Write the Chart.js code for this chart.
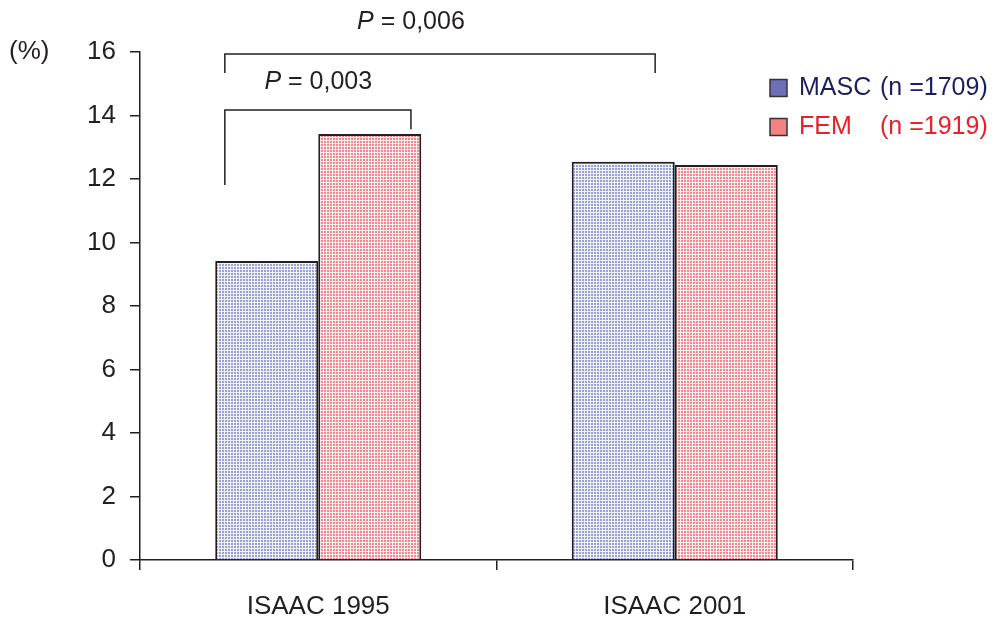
<!DOCTYPE html>
<html lang="en">
<head>
    <meta charset="UTF-8">
    <title>ISAAC 1995 / 2001</title>
    <script src="https://cdn.jsdelivr.net/npm/chart.js"></script>
    <style>
        html, body { margin: 0; padding: 0; background: #fff; }
        #wrap { width: 1000px; height: 621px; }
    </style>
</head>
<body>
    <div id="wrap"><canvas id="chart"></canvas></div>

    <script>
        // Data
        const categories = ['ISAAC 1995', 'ISAAC 2001'];
        const seriesNames = ['MASC', 'FEM'];
        const seriesN = ['(n =1709)', '(n =1919)'];
        const mascValues = [9.42, 12.54];
        const femValues = [13.42, 12.44];
        const yTicks = [0, 2, 4, 6, 8, 10, 12, 14, 16];

        // Significance brackets: x in category units, y in % units
        const bracketLabels = ['0,003', '0,006'];
        const bracketX = [[-0.262, 0.260], [-0.262, 0.945]];
        const bracketTop = [14.17, 15.94];
        const bracketLegs = [[11.81, 13.57], [15.34, 15.34]];
        const bracketTextX = [0, 0.26];
        const bracketTextY = [15.06, 16.94];

        const FONT = '"Liberation Sans", Arial, sans-serif';
        const INK = '#231f20';

        // Dotted fill like the printed figure
        function dotPattern(bg, dot) {
            const c = document.createElement('canvas');
            c.width = 3; c.height = 3;
            const g = c.getContext('2d');
            g.fillStyle = bg;
            g.fillRect(0, 0, 3, 3);
            g.fillStyle = dot;
            g.fillRect(0, 0, 2, 2);
            return g.createPattern(c, 'repeat');
        }
        const bluePattern = dotPattern('#f1f2fa', '#98a0d6');
        const redPattern = dotPattern('#fff0f0', '#f5878c');

        const legendFill = ['#6d70b8', '#f28283'];
        const legendText = ['#1b1f5f', '#e62129'];

        const overlay = {
            id: 'overlay',
            afterDraw(chart) {
                const { ctx, chartArea, scales } = chart;
                const y = scales.y;
                const catW = (chartArea.right - chartArea.left) / categories.length;
                const px = v => chartArea.left + (v + 0.5) * catW;
                ctx.save();

                // brackets
                ctx.strokeStyle = INK;
                ctx.lineWidth = 1.5;
                for (let i = 0; i < bracketLabels.length; i++) {
                    const x0 = px(bracketX[i][0]), x1 = px(bracketX[i][1]);
                    const yt = y.getPixelForValue(bracketTop[i]);
                    ctx.beginPath();
                    ctx.moveTo(x0, y.getPixelForValue(bracketLegs[i][0]));
                    ctx.lineTo(x0, yt);
                    ctx.lineTo(x1, yt);
                    ctx.lineTo(x1, y.getPixelForValue(bracketLegs[i][1]));
                    ctx.stroke();

                    // "P = value" with italic P
                    const pPart = 'P';
                    const rest = ' = ' + bracketLabels[i];
                    ctx.font = 'italic 25px ' + FONT;
                    const wP = ctx.measureText(pPart).width;
                    ctx.font = '25px ' + FONT;
                    const wR = ctx.measureText(rest).width;
                    const cx = px(bracketTextX[i]);
                    const cy = y.getPixelForValue(bracketTextY[i]);
                    const sx = cx - (wP + wR) / 2;
                    ctx.fillStyle = INK;
                    ctx.textBaseline = 'middle';
                    ctx.textAlign = 'left';
                    ctx.font = 'italic 25px ' + FONT;
                    ctx.fillText(pPart, sx, cy);
                    ctx.font = '25px ' + FONT;
                    ctx.fillText(rest, sx + wP, cy);
                }

                // legend
                for (let i = 0; i < seriesNames.length; i++) {
                    const ly = 88 + i * 39;
                    ctx.fillStyle = legendFill[i];
                    ctx.fillRect(770, ly - 8.5, 17, 17);
                    ctx.strokeStyle = '#333';
                    ctx.lineWidth = 1.5;
                    ctx.strokeRect(770, ly - 8.5, 17, 17);
                    ctx.fillStyle = legendText[i];
                    ctx.font = '25px ' + FONT;
                    ctx.textBaseline = 'middle';
                    ctx.fillText(seriesNames[i], 799, ly);
                    ctx.fillText(seriesN[i], 880, ly);
                }

                // unit label
                ctx.fillStyle = INK;
                ctx.font = '26px ' + FONT;
                ctx.textAlign = 'left';
                ctx.fillText('(%)', 9, y.getPixelForValue(16));
                ctx.restore();
            }
        };

        new Chart(document.getElementById('chart'), {
            type: 'bar',
            data: {
                labels: categories,
                datasets: [
                    {
                        label: seriesNames[0],
                        data: mascValues,
                        backgroundColor: bluePattern,
                        borderColor: INK,
                        borderWidth: 2
                    },
                    {
                        label: seriesNames[1],
                        data: femValues,
                        backgroundColor: redPattern,
                        borderColor: INK,
                        borderWidth: 2
                    }
                ]
            },
            options: {
                responsive: true,
                maintainAspectRatio: false,
                animation: false,
                layout: { padding: { left: 0, right: 147, top: 52, bottom: 0 } },
                datasets: { bar: { barPercentage: 1, categoryPercentage: 0.578 } },
                plugins: { legend: { display: false }, tooltip: { enabled: false } },
                scales: {
                    x: {
                        grid: { offset: true, drawOnChartArea: false, tickLength: 10, color: INK, lineWidth: 1.5 },
                        border: { color: INK, width: 1.5 },
                        ticks: { color: INK, font: { family: FONT, size: 26 }, padding: 21 },
                        afterFit: s => { s.height = 61; }
                    },
                    y: {
                        min: 0,
                        max: 16,
                        afterBuildTicks: s => { s.ticks = yTicks.map(v => ({ value: v })); },
                        grid: { drawOnChartArea: false, tickLength: 10, color: INK, lineWidth: 1.5 },
                        border: { color: INK, width: 1.5 },
                        ticks: { color: INK, font: { family: FONT, size: 26 }, padding: 14 },
                        afterFit: s => { s.width = 140; }
                    }
                }
            },
            plugins: [overlay]
        });
    </script>
</body>
</html>
